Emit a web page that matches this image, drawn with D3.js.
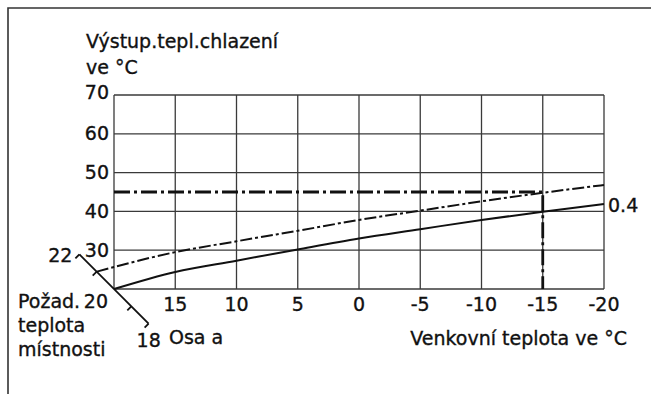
<!DOCTYPE html>
<html>
<head>
<meta charset="utf-8">
<script src="https://cdn.jsdelivr.net/npm/d3@7"></script>
<style>
  html, body { margin: 0; padding: 0; background: #fff; }
  svg { display: block; }
  text { font-family: "DejaVu Sans", sans-serif; font-size: 19px; fill: #111; stroke: #111; stroke-width: 0.35px; }
</style>
</head>
<body>
<svg id="chart" width="651" height="394"></svg>
<script>
// Outdoor temperature ticks (x axis runs from warm to cold)
const outdoorTicks = [20, 15, 10, 5, 0, -5, -10, -15, -20];
const outdoorLabels = [15, 10, 5, 0, -5, -10, -15, -20];
// Flow temperature ticks
const flowTicks = [20, 30, 40, 50, 60, 70];
const flowLabels = [30, 40, 50, 60, 70];
// Room set-point axis ("Osa a")
const roomTicks = [22, 21, 20, 19, 18];
const roomLabels = [22, 20, 18];

// Heating curve 0.4 at room set-point 20 °C
const curveOutdoor = [20, 15, 10, 5, 0, -5, -10, -15, -20];
const curveFlow    = [20, 24.4, 27.3, 30.2, 33.0, 35.4, 37.8, 39.9, 41.9];
// Same curve shifted to room set-point 21 °C (starts on the room axis)
const shiftedRoom    = 21;
const shiftedOutdoor = [15, 10, 5, 0, -5, -10, -15, -20];
const shiftedFlow    = [29.5, 32.3, 35.0, 37.8, 40.2, 42.6, 44.8, 46.8];
// Read-off example: design temperature -15 °C -> flow 45 °C
const readOutdoor = [20, -15, -15];
const readFlow    = [45, 45, 20];

const svg = d3.select("#chart");

const x = d3.scaleLinear().domain([20, -20]).range([114, 604]);
const y = d3.scaleLinear().domain([20, 70]).range([289, 95]);

// Room axis: diagonal through the origin of the chart
const roomStep = 17.3;
const room = d3.scaleLinear().domain([20, 21]).range([0, -roomStep]);
const roomPt = t => [x(20) + room(t), y(20) + room(t)];

// Outer frame (top and left edges)
svg.append("path")
  .attr("d", "M651,8 H8 V394")
  .attr("fill", "none").attr("stroke", "#333").attr("stroke-width", 1.6);

// Grid
const grid = svg.append("g").attr("stroke", "#3a3a3a").attr("stroke-width", 1.3).attr("fill", "none");
grid.selectAll("line.v").data(outdoorTicks).join("line")
  .attr("x1", d => x(d)).attr("x2", d => x(d))
  .attr("y1", y(20)).attr("y2", y(70));
grid.selectAll("line.h").data(flowTicks).join("line")
  .attr("x1", x(20)).attr("x2", x(-20))
  .attr("y1", d => y(d)).attr("y2", d => y(d));

// Y axis tick labels
svg.append("g").selectAll("text").data(flowLabels).join("text")
  .attr("x", x(20) - 5)
  .attr("y", d => y(d) + (d === 70 ? 3.5 : 6.5))
  .attr("text-anchor", "end")
  .text(d => d);

// X axis tick labels
svg.append("g").selectAll("text").data(outdoorLabels).join("text")
  .attr("x", d => x(d))
  .attr("y", 311)
  .attr("text-anchor", "middle")
  .text(d => d);

// Axis titles
svg.append("text").attr("x", 86).attr("y", 48).text("Výstup.tepl.chlazení");
svg.append("text").attr("x", 86).attr("y", 74).text("ve °C");
svg.append("text").attr("x", 627).attr("y", 345).attr("text-anchor", "end").text("Venkovní teplota ve °C");
svg.append("text").attr("x", 18).attr("y", 308).text("Požad.");
svg.append("text").attr("x", 18).attr("y", 332).text("teplota");
svg.append("text").attr("x", 18).attr("y", 356).text("místnosti");
svg.append("text").attr("x", 169).attr("y", 344).text("Osa a");

// Room axis line with ticks
const roomAxis = svg.append("g").attr("stroke", "#111").attr("stroke-width", 1.8).attr("fill", "none");
const [rx0, ry0] = roomPt(22), [rx1, ry1] = roomPt(18);
roomAxis.append("line").attr("x1", rx0).attr("y1", ry0).attr("x2", rx1).attr("y2", ry1);
roomAxis.selectAll("line.tick").data(roomTicks.filter(d => d !== 20)).join("line")
  .attr("x1", d => roomPt(d)[0]).attr("y1", d => roomPt(d)[1])
  .attr("x2", d => roomPt(d)[0] - 4).attr("y2", d => roomPt(d)[1] + 4);

// Room axis labels
const roomLabelPos = {
  22: { dx: -7, dy: 8, anchor: "end" },
  20: { dx: -6, dy: 19, anchor: "end" },
  18: { dx: -12, dy: 23, anchor: "start" }
};
svg.append("g").selectAll("text").data(roomLabels).join("text")
  .attr("x", d => roomPt(d)[0] + roomLabelPos[d].dx)
  .attr("y", d => roomPt(d)[1] + roomLabelPos[d].dy)
  .attr("text-anchor", d => roomLabelPos[d].anchor)
  .text(d => d);

// Curves
const line = d3.line().x(d => d[0]).y(d => d[1]).curve(d3.curveMonotoneX);

const curvePts = curveOutdoor.map((o, i) => [x(o), y(curveFlow[i])]);
svg.append("path").attr("d", line(curvePts))
  .attr("fill", "none").attr("stroke", "#111").attr("stroke-width", 2);

const shiftedPts = [roomPt(shiftedRoom)].concat(shiftedOutdoor.map((o, i) => [x(o), y(shiftedFlow[i])]));
svg.append("path").attr("d", line(shiftedPts))
  .attr("fill", "none").attr("stroke", "#111").attr("stroke-width", 2)
  .attr("stroke-dasharray", "12,3,3,3");

// Read-off line
svg.append("path")
  .attr("d", d3.line()(readOutdoor.map((o, i) => [x(o), y(readFlow[i])])))
  .attr("fill", "none").attr("stroke", "#111").attr("stroke-width", 2.8)
  .attr("stroke-dasharray", "16,4,3,4");

// Curve label
svg.append("text").attr("x", x(-20) + 4).attr("y", y(curveFlow[curveFlow.length - 1]) + 8).text("0.4");
</script>
</body>
</html>
